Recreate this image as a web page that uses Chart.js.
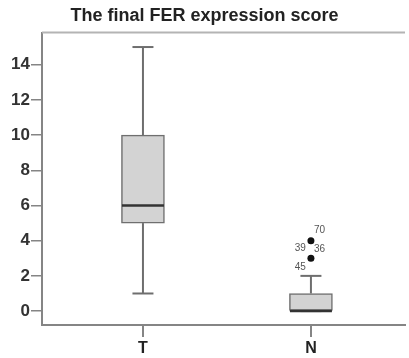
<!DOCTYPE html>
<html>
<head>
<meta charset="utf-8">
<script src="https://cdn.jsdelivr.net/npm/chart.js@4/dist/chart.umd.min.js"></script>
<style>
  html, body { margin: 0; padding: 0; background: #ffffff; }
  #wrap { width: 409px; height: 358px; }
</style>
</head>
<body>
<div id="wrap"><canvas id="c" width="409" height="358"></canvas></div>
<script>
// ---- data ----
const categories = ['T', 'N'];
const whiskerLow  = [1, 0];
const q1          = [5, 0];
const median      = [6, 0];
const q3          = [10, 1];
const whiskerHigh = [15, 2];
const outlierCategory = ['N', 'N'];
const outlierValues   = [4, 3];
const outlierCaseIds  = [['70', '36'], ['39', '45']];
const yTickValues = [0, 2, 4, 6, 8, 10, 12, 14];
const chartTitle = 'The final FER expression score';

// ---- styles ----
const FONT = '"Liberation Sans", Arial, sans-serif';
const axisGray = '#858585';

const boxData = categories.map((c, i) => ({ x: i + 1, y: [q1[i], q3[i]] }));
const outlierData = outlierValues.map((v, i) => ({ x: categories.indexOf(outlierCategory[i]) + 1, y: v }));

const boxPlugin = {
  id: 'boxExtras',
  beforeDatasetsDraw(chart) {
    const { ctx, chartArea, scales } = chart;
    const xs = scales.x, ys = scales.y;
    ctx.save();
    // top frame line
    ctx.strokeStyle = '#b4b4b4';
    ctx.lineWidth = 2;
    ctx.beginPath();
    ctx.moveTo(chartArea.left, chartArea.top);
    ctx.lineTo(chartArea.right, chartArea.top);
    ctx.stroke();
    // whiskers
    ctx.strokeStyle = '#6e6e6e';
    ctx.lineWidth = 2;
    categories.forEach((c, i) => {
      const x = xs.getPixelForValue(i + 1);
      const capHalf = 10.5;
      const segs = [[whiskerLow[i], q1[i]], [q3[i], whiskerHigh[i]]];
      segs.forEach(([a, b]) => {
        if (a === b) return;
        ctx.beginPath();
        ctx.moveTo(x, ys.getPixelForValue(a));
        ctx.lineTo(x, ys.getPixelForValue(b));
        ctx.stroke();
      });
      [whiskerLow[i], whiskerHigh[i]].forEach(v => {
        const y = ys.getPixelForValue(v);
        ctx.beginPath();
        ctx.moveTo(x - capHalf, y);
        ctx.lineTo(x + capHalf, y);
        ctx.stroke();
      });
    });
    ctx.restore();
  },
  afterDatasetsDraw(chart) {
    const { ctx, scales } = chart;
    const xs = scales.x, ys = scales.y;
    ctx.save();
    // medians
    ctx.strokeStyle = '#333333';
    ctx.lineWidth = 2.5;
    categories.forEach((c, i) => {
      const x = xs.getPixelForValue(i + 1);
      const y = ys.getPixelForValue(median[i]);
      ctx.beginPath();
      ctx.moveTo(x - 21, y);
      ctx.lineTo(x + 21, y);
      ctx.stroke();
    });
    // outlier case labels
    ctx.fillStyle = '#555555';
    ctx.font = '10px ' + FONT;
    ctx.textBaseline = 'middle';
    outlierValues.forEach((v, i) => {
      const x = xs.getPixelForValue(categories.indexOf(outlierCategory[i]) + 1);
      const y = ys.getPixelForValue(v);
      const ids = outlierCaseIds[i];
      const rightSide = (i % 2 === 0);
      ids.forEach((id, k) => {
        const dy = k === 0 ? -10 : 8.5;
        let side = rightSide;
        if (i === 0 && k === 1) side = true;
        ctx.textAlign = side ? 'left' : 'right';
        ctx.fillText(id, side ? x + 3 : x - 5, y + dy);
      });
    });
    ctx.restore();
  }
};

new Chart(document.getElementById('c'), {
  type: 'bar',
  data: {
    datasets: [
      {
        type: 'bar',
        data: boxData,
        barThickness: 43,
        backgroundColor: '#d3d3d3',
        borderColor: '#6f6f6f',
        borderWidth: 1.5,
        borderSkipped: false
      },
      {
        type: 'scatter',
        data: outlierData,
        pointRadius: 3.5,
        pointBackgroundColor: '#111111',
        pointBorderWidth: 0
      }
    ]
  },
  options: {
    responsive: false,
    animation: false,
    devicePixelRatio: 1,
    layout: { padding: { left: 0, right: 0, top: 0, bottom: 0 } },
    plugins: {
      legend: { display: false },
      tooltip: { enabled: false },
      title: {
        display: true,
        text: chartTitle,
        color: '#222222',
        font: { family: FONT, size: 18, weight: 'bold' },
        padding: { top: 5, bottom: 6 }
      }
    },
    scales: {
      x: {
        type: 'linear',
        offset: false,
        min: 0.399,
        max: 2.56,
        afterBuildTicks: s => { s.ticks = categories.map((c, i) => ({ value: i + 1 })); },
        afterFit: s => { s.height = 33; },
        ticks: {
          callback: v => categories[v - 1],
          color: '#222222',
          font: { family: FONT, size: 16, weight: 'bold' },
          padding: 2,
          maxRotation: 0
        },
        grid: { offset: false, drawOnChartArea: false, drawTicks: true, tickLength: 12, color: axisGray, lineWidth: 2 },
        border: { display: true, color: axisGray, width: 2 }
      },
      y: {
        type: 'linear',
        min: -0.79,
        max: 15.82,
        afterBuildTicks: s => { s.ticks = yTickValues.map(v => ({ value: v })); },
        afterFit: s => { s.width = 42; },
        ticks: {
          color: '#333333',
          font: { family: FONT, size: 17, weight: 'bold' },
          padding: 1
        },
        grid: { drawOnChartArea: false, drawTicks: true, tickLength: 11, color: axisGray, lineWidth: 1.5 },
        border: { display: true, color: axisGray, width: 2 }
      }
    }
  },
  plugins: [boxPlugin]
});
</script>
</body>
</html>
